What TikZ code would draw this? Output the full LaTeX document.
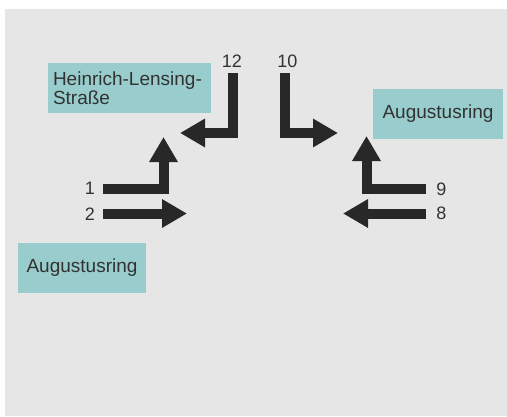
\documentclass[tikz,border=0pt]{standalone}
\usepackage{fontspec}
\setmainfont{Liberation Sans}
\usepackage{tikz}
\usetikzlibrary{arrows.meta,positioning}
\definecolor{bg}{RGB}{230,230,230}
\definecolor{teal}{RGB}{153,205,205}
\definecolor{ink}{RGB}{50,50,50}
\definecolor{bar}{RGB}{40,40,40}

\begin{document}
\begin{tikzpicture}[x=1pt,y=-1pt,font=\fontsize{18}{20}\selectfont,
  box/.style={fill=teal,text=ink,inner xsep=5pt,minimum height=50pt,font=\fontsize{19}{19.5}\selectfont},
  num/.style={text=ink,inner sep=0pt},
  a/.style={draw=bar,line width=10pt,line join=miter,-{Triangle[length=25pt,width=27pt]}}]
  \useasboundingbox (0,0) rectangle (507,416);
  \fill[bg] (5,9) rectangle (507,416);
  % street names
  \node[box,minimum width=163pt,text width=153pt,align=left] (hls) at (129.5,88) {Heinrich-Lensing-\\Straße};
  \node[box,minimum width=128pt] (augW) at (82,268) {Augustusring};
  \node[box,minimum width=130pt] (augE) at (438,113.5) {Augustusring};
  % lane numbers
  \node[num] (l12) at (232,61) {12};
  \node[num] (l10) at (287.5,61) {10};
  \node[num] (l1) at (90,188.5) {1};
  \node[num] (l2) at (90,214) {2};
  \node[num] (l9) at (441.5,189) {9};
  \node[num] (l8) at (441.5,213.5) {8};
  % arrow ends
  \coordinate (s12) at (233,73);   \coordinate (e12) at (180,133);
  \coordinate (s10) at (285,73);   \coordinate (e10) at (338,133);
  \coordinate (s1) at (103,188.5); \coordinate (e1) at (163.5,137);
  \coordinate (s2) at (103,213.5); \coordinate (e2) at (187,213.5);
  \coordinate (s9) at (426,189);   \coordinate (e9) at (366.5,136);
  \coordinate (s8) at (426,213.5); \coordinate (e8) at (343,213.5);
  \draw[a] (s12) |- (e12);
  \draw[a] (s10) |- (e10);
  \draw[a] (s1) -| (e1);
  \draw[a] (s9) -| (e9);
  \foreach \i/\j in {s2/e2,s8/e8} \draw[a] (\i)--(\j);
\end{tikzpicture}
\end{document}
